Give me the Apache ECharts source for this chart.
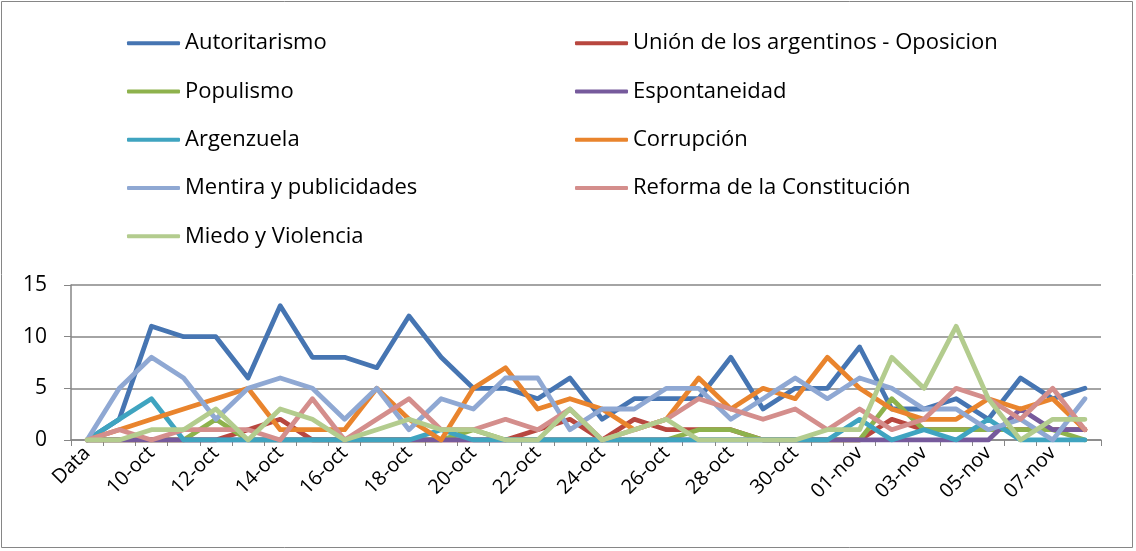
<!DOCTYPE html>
<html>
<head>
<meta charset="utf-8">
<script src="https://cdn.jsdelivr.net/npm/echarts@6/dist/echarts.min.js"></script>
<style>
  html, body { margin: 0; padding: 0; background: #fff; }
  #chart { width: 1136px; height: 551px; }
</style>
</head>
<body>
<div id="chart"></div>
<script>
// fechas (la primera categoria es "Data")
const days = ['Data',
  '09-oct','10-oct','11-oct','12-oct','13-oct','14-oct','15-oct','16-oct','17-oct','18-oct',
  '19-oct','20-oct','21-oct','22-oct','23-oct','24-oct','25-oct','26-oct','27-oct','28-oct',
  '29-oct','30-oct','31-oct',
  '01-nov','02-nov','03-nov','04-nov','05-nov','06-nov','07-nov','08-nov'];

const autoritarismo = [0,2,11,10,10,6,13,8,8,7,12,8,5,5,4,6,2,4,4,4,8,3,5,5,9,3,3,4,2,6,4,5];
const union         = [0,0,0,0,0,1,2,0,0,0,0,0,0,0,1,2,0,2,1,1,1,0,0,0,0,2,1,1,1,1,1,1];
const populismo     = [0,0,0,0,2,0,0,0,0,0,0,0,1,0,0,0,0,0,0,1,1,0,0,0,0,4,1,1,1,1,1,0];
const espontaneidad = [0,0,0,0,0,0,0,0,0,0,0,0,0,0,0,0,0,0,0,0,0,0,0,0,0,0,0,0,0,3,1,1];
const argenzuela    = [0,2,4,0,0,0,0,0,0,0,0,1,0,0,0,0,0,0,0,0,0,0,0,0,2,0,1,0,2,0,0,0];
const corrupcion    = [0,1,2,3,4,5,1,1,1,5,2,0,5,7,3,4,3,1,2,6,3,5,4,8,5,3,2,2,4,3,4,1];
const mentira       = [0,5,8,6,2,5,6,5,2,5,1,4,3,6,6,1,3,3,5,5,2,4,6,4,6,5,3,3,1,2,0,4];
const reforma       = [0,1,0,1,1,1,0,4,0,2,4,1,1,2,1,3,0,1,2,4,3,2,3,1,3,1,2,5,4,2,5,1];
const miedo         = [0,0,1,1,3,0,3,2,0,1,2,1,1,0,0,3,0,1,2,0,0,0,0,1,1,8,5,11,4,0,2,2];

const yTicks = [0, 15, 5]; // min, max, intervalo

const names = ['Autoritarismo','Unión de los argentinos - Oposicion','Populismo','Espontaneidad',
  'Argenzuela','Corrupción','Mentira y publicidades','Reforma de la Constitución','Miedo y Violencia'];
const values = [autoritarismo, union, populismo, espontaneidad, argenzuela, corrupcion, mentira, reforma, miedo];
const colors = ['#4675B2','#B8473F','#8EB24D','#765A9C','#3FA4C0','#E9842D','#8FA8D3','#D48E8C','#B3CC8E'];

const font = '"Open Sans", "Liberation Sans", sans-serif';

const chart = echarts.init(document.getElementById('chart'));

const legendBase = {
  orient: 'vertical',
  top: 19,
  padding: 0,
  itemGap: 0,
  itemWidth: 53,
  itemHeight: 4,
  icon: 'roundRect',
  textStyle: { fontFamily: font, fontSize: 22, color: '#000', lineHeight: 48.3 }
};

chart.setOption({
  animation: false,
  color: colors,
  graphic: [{
    type: 'rect',
    shape: { x: 1.5, y: 1.5, width: 1131, height: 546 },
    style: { fill: 'none', stroke: '#868686', lineWidth: 1 }
  }],
  legend: [
    Object.assign({}, legendBase, { left: 127, data: [names[0], names[2], names[4], names[6], names[8]] }),
    Object.assign({}, legendBase, { left: 575, data: [names[1], names[3], names[5], names[7]] })
  ],
  grid: { left: 71, right: 35, top: 285, bottom: 111, containLabel: false },
  xAxis: {
    type: 'category',
    data: days,
    boundaryGap: true,
    axisLine: { lineStyle: { color: '#868686', width: 1.5 } },
    axisTick: { show: true, interval: 0, length: 6, lineStyle: { color: '#868686' } },
    axisLabel: { interval: 1, rotate: 45, margin: 10, fontFamily: font, fontSize: 20, color: '#000' }
  },
  yAxis: {
    type: 'value',
    min: yTicks[0],
    max: yTicks[1],
    interval: yTicks[2],
    axisLine: { show: true, lineStyle: { color: '#868686', width: 1.5 } },
    axisTick: { show: true, length: 7, lineStyle: { color: '#868686' } },
    axisLabel: { margin: 24, fontFamily: font, fontSize: 21, color: '#000' },
    splitLine: { lineStyle: { color: '#868686', width: 1.5 } }
  },
  series: names.map((n, i) => ({
    name: n,
    type: 'line',
    data: values[i],
    symbol: 'none',
    lineStyle: { width: 4.8, color: colors[i], join: 'round', cap: 'round' },
    itemStyle: { color: colors[i] }
  }))
});
</script>
</body>
</html>
